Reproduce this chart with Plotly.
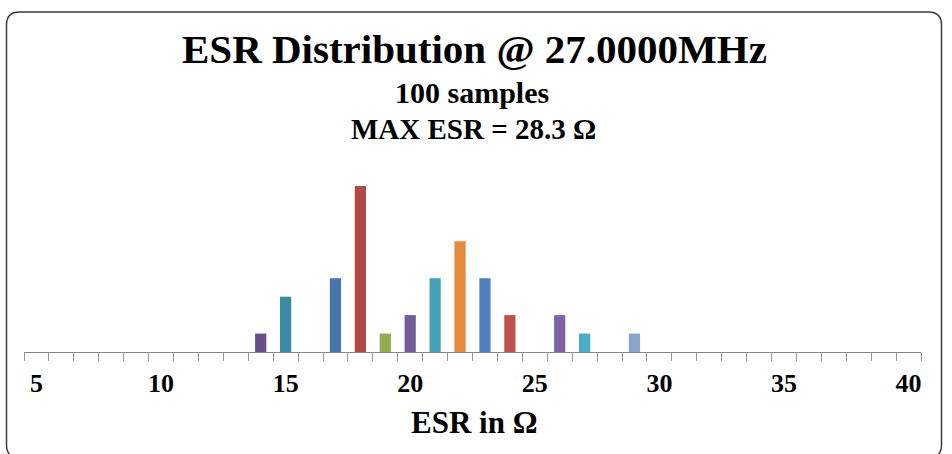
import plotly.graph_objects as go

# Data
esr_bins = [14, 15, 17, 18, 19, 20, 21, 22, 23, 24, 26, 27, 29]
counts = [1, 3, 4, 9, 1, 2, 4, 6, 4, 2, 2, 1, 1]
bar_colors = ["#684E89", "#3A8BA2", "#4775AE", "#B14A47", "#8FAC51", "#745C96",
              "#46A0B8", "#E38A3C", "#4E81BD", "#C0504D", "#8064A2", "#4BACC6", "#8AA5CC"]
tick_vals = [5, 10, 15, 20, 25, 30, 35, 40]
tick_text = ["<b>%d</b>" % v for v in tick_vals]
title_main = "ESR Distribution @ 27.0000MHz"
title_sub1 = "100 samples"
title_sub2 = "MAX ESR = 28.3 Ω"
x_title = "ESR in Ω"

W, H = 952, 454
L, R, T, B = 24, 31, 170, 102
PW, PH = W - L - R, H - T - B
YMAX = 9 * PH / 166.0

def px(x):
    return (x - L) / PW

def py(y):
    return (H - B - y) / PH

font_family = "Liberation Serif, Times New Roman, serif"

fig = go.Figure(go.Bar(
    x=esr_bins, y=counts, marker=dict(color=bar_colors, line=dict(width=0)),
    width=0.45,
))

# rounded border
x0, x1, y0, y1, r = 6.5, 941.5, 12, 458, 13
rx, ry = r / PW, r / PH
X0, X1, Y0, Y1 = px(x0), px(x1), py(y0), py(y1)
path = (f"M {X0+rx} {Y0} L {X1-rx} {Y0} Q {X1} {Y0} {X1} {Y0-ry} "
        f"L {X1} {Y1+ry} Q {X1} {Y1} {X1-rx} {Y1} L {X0+rx} {Y1} "
        f"Q {X0} {Y1} {X0} {Y1+ry} L {X0} {Y0-ry} Q {X0} {Y0} {X0+rx} {Y0} Z")

fig.update_layout(
    width=W, height=H,
    margin=dict(l=L, r=R, t=T, b=B, pad=0),
    paper_bgcolor="white", plot_bgcolor="white",
    showlegend=False,
    font=dict(family=font_family, color="black"),
    xaxis=dict(
        range=[4.5, 40.5], tickvals=tick_vals, ticktext=tick_text,
        tickfont=dict(size=26, family=font_family, color="black"),
        ticks="outside", ticklen=8, tickcolor="rgba(0,0,0,0)",
        showline=True, linecolor="#888888", linewidth=1.3,
        showgrid=False, zeroline=False,
        minor=dict(tick0=4.5, dtick=1, ticks="outside", ticklen=8,
                   tickcolor="#999999", tickwidth=1, showgrid=False),
    ),
    yaxis=dict(range=[0, YMAX], visible=False, showgrid=False, zeroline=False),
    shapes=[dict(type="path", path=path, xref="paper", yref="paper",
                 line=dict(color="#3a3a3a", width=1.5), layer="above")],
    annotations=[
        dict(text="<b>%s</b>" % title_main, x=px(475), y=py(49), xref="paper", yref="paper",
             showarrow=False, xanchor="center", yanchor="middle",
             font=dict(size=41, family=font_family, color="black")),
        dict(text="<b>%s</b>" % title_sub1, x=px(472), y=py(93), xref="paper", yref="paper",
             showarrow=False, xanchor="center", yanchor="middle",
             font=dict(size=30, family=font_family, color="black")),
        dict(text="<b>%s</b>" % title_sub2, x=px(473), y=py(129), xref="paper", yref="paper",
             showarrow=False, xanchor="center", yanchor="middle",
             font=dict(size=29, family=font_family, color="black")),
        dict(text="<b>%s</b>" % x_title, x=px(474), y=py(422), xref="paper", yref="paper",
             showarrow=False, xanchor="center", yanchor="middle",
             font=dict(size=31, family=font_family, color="black")),
    ],
)

fig.write_html("out.html", config={"displayModeBar": False},
               post_script="document.body.style.margin='0px';document.body.style.overflow='hidden';")
